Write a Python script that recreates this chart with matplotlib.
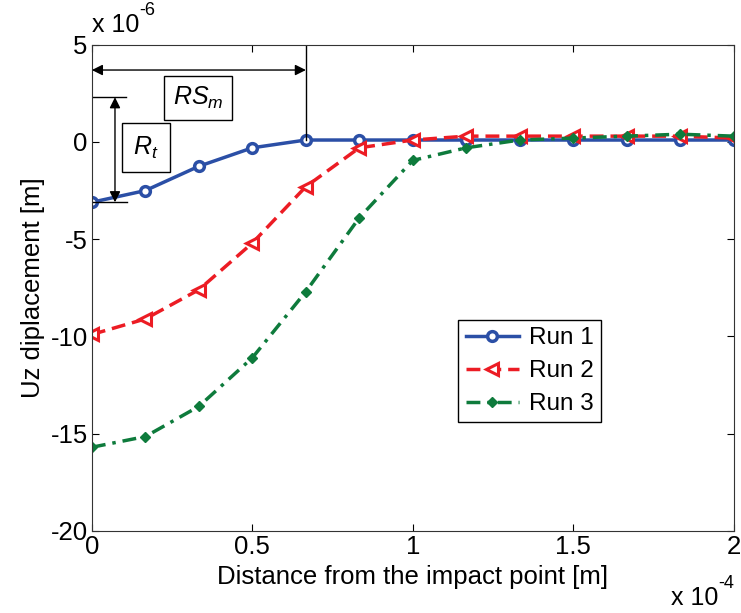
import numpy as np
import matplotlib
matplotlib.use('Agg')
import matplotlib.pyplot as plt

plt.rcParams['font.family'] = ['Liberation Sans', 'DejaVu Sans']
plt.rcParams['axes.unicode_minus'] = False
plt.rcParams['mathtext.fontset'] = 'custom'
plt.rcParams['mathtext.it'] = 'Liberation Sans:italic'
plt.rcParams['mathtext.rm'] = 'Liberation Sans'

# distance in units of 1e-4 m
dist = np.arange(13) / 6.0
# Uz displacement in units of 1e-6 m
run1 = [-3.1, -2.5, -1.25, -0.3, 0.1, 0.1, 0.1, 0.1, 0.1, 0.1, 0.1, 0.1, 0.1]
run2 = [-9.9, -9.1, -7.6, -5.2, -2.3, -0.3, 0.1, 0.3, 0.3, 0.3, 0.3, 0.3, 0.2]
run3 = [-15.7, -15.15, -13.6, -11.1, -7.7, -3.9, -0.95, -0.3, 0.1, 0.2, 0.3, 0.4, 0.3]
labels = ['Run 1', 'Run 2', 'Run 3']

blue = '#2b4fa6'
red = '#ec1c24'
green = '#0e7b3c'

fig = plt.figure(figsize=(7.41, 6.13), dpi=100)
ax = fig.add_axes([0.124, 0.134, 0.866, 0.793])

ax.plot(dist, run1, '-', color=blue, lw=2.5, marker='o', ms=7,
        mfc='white', mec=blue, mew=2.5, label=labels[0])
ax.plot(dist, run2, '--', color=red, lw=2.5, marker='<', ms=9,
        mfc='white', mec=red, mew=2.2, label=labels[1], dashes=(4, 2))
ax.plot(dist, run3, '-.', color=green, lw=2.5, marker='D', ms=5.5,
        mfc=green, mec=green, label=labels[2], dashes=(4, 2, 1, 2))

ax.set_xlim(0, 2)
ax.set_ylim(-20, 5)
ax.set_xticks([0, 0.5, 1, 1.5, 2])
ax.set_xticklabels(['0', '0.5', '1', '1.5', '2'])
ax.set_yticks([-20, -15, -10, -5, 0, 5])
ax.tick_params(direction='in', top=True, right=True, labelsize=18.5, length=5, pad=3)
for s in ax.spines.values():
    s.set_color('#333333')

ax.set_xlabel('Distance from the impact point [m]', fontsize=18.5, labelpad=4)
ax.set_ylabel('Uz diplacement [m]', fontsize=18.5, labelpad=4)

# exponent labels (MATLAB style)
t6 = fig.text(0.124, 0.94, 'x 10', fontsize=18, ha='left', va='bottom')
ax.annotate('-6', xy=(1, 0.75), xycoords=t6, fontsize=13, ha='left', va='bottom')
t4 = fig.text(0.905, 0.005, 'x 10', fontsize=18, ha='left', va='bottom')
ax.annotate('-4', xy=(1, 0.75), xycoords=t4, fontsize=13, ha='left', va='bottom')

# RS_m annotation
ax.annotate('', xy=(0, 3.7), xytext=(0.667, 3.7),
            arrowprops=dict(arrowstyle='<|-|>', color='black', lw=1,
                            mutation_scale=16, shrinkA=0, shrinkB=0))
ax.plot([0.667, 0.667], [5, 0.1], color='black', lw=1)
ax.text(0.33, 2.25, r'$RS_m$', fontsize=18, ha='center', va='center',
        bbox=dict(boxstyle='square,pad=0.35', fc='white', ec='black', lw=1))

# R_t annotation
ax.plot([0, 0.105], [2.3, 2.3], color='black', lw=1)
ax.plot([0.0, 0.11], [-3.1, -3.1], color='black', lw=1)
ax.annotate('', xy=(0.072, 2.3), xytext=(0.072, -3.1),
            arrowprops=dict(arrowstyle='<|-|>', color='black', lw=1,
                            mutation_scale=16, shrinkA=0, shrinkB=0))
ax.text(0.168, -0.3, r'$R_t$', fontsize=18, ha='center', va='center',
        bbox=dict(boxstyle='square,pad=0.45', fc='white', ec='black', lw=1))

leg = ax.legend(loc='upper left', bbox_to_anchor=(0.571, 0.434), fontsize=17.5,
                fancybox=False, edgecolor='black', framealpha=1,
                handlelength=2.2, handletextpad=0.4, borderpad=0.3,
                labelspacing=0.45, borderaxespad=0)
leg.get_frame().set_linewidth(1)

fig.savefig('out.png', dpi=100)
